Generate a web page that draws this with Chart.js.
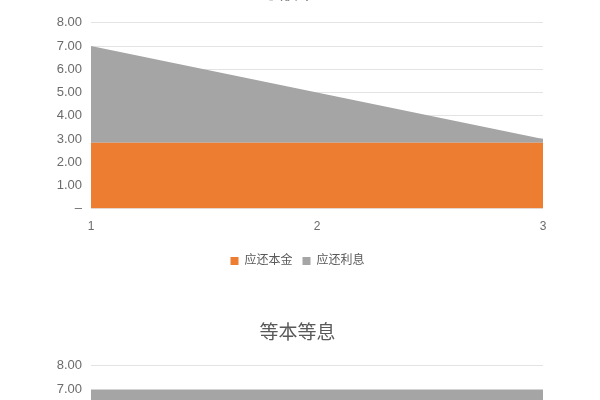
<!DOCTYPE html>
<html>
<head>
<meta charset="utf-8">
<script src="https://cdn.jsdelivr.net/npm/chart.js@4/dist/chart.umd.min.js"></script>
<style>
  html, body { margin: 0; padding: 0; background: #fff; overflow: hidden; width: 600px; height: 400px; }
  .box { position: absolute; left: 0; width: 600px; }
  #top { top: -40px; }
  #bottom { top: 300px; }
</style>
</head>
<body>
<div class="box" id="top"><canvas id="c1" width="600" height="325"></canvas></div>
<div class="box" id="bottom"><canvas id="c2" width="600" height="333"></canvas></div>
<script>
// 期数
const periods = ['1', '2', '3'];
// 等额本金
const principal1 = [2.83, 2.83, 2.83];
const interest1 = [4.17, 2.17, 0.17];
// 等本等息
const principal2 = [2.83, 2.83, 2.83];
const interest2 = [4.17, 4.17, 4.17];
const yTicks = [0, 1, 2, 3, 4, 5, 6, 7, 8];

const seriesNames = ['应还本金', '应还利息'];
const orange = '#ED7D31';
const grey = '#A5A5A5';
const font = "'Liberation Sans', 'Noto Sans CJK SC', sans-serif";

Chart.defaults.font.family = font;
Chart.defaults.color = '#6b6b6b';
Chart.defaults.animation = false;

function makeChart(id, title, principal, interest, titlePadBottom) {
  const ctx = document.getElementById(id).getContext('2d');
  return new Chart(ctx, {
    type: 'line',
    data: {
      labels: periods,
      datasets: [{
        label: seriesNames[0],
        data: principal,
        backgroundColor: orange,
        borderColor: orange,
        borderWidth: 0,
        pointRadius: 0,
        fill: 'origin'
      }, {
        label: seriesNames[1],
        data: interest,
        backgroundColor: grey,
        borderColor: grey,
        borderWidth: 0,
        pointRadius: 0,
        fill: '-1'
      }]
    },
    options: {
      responsive: false,
      // left padding keeps title/legend centred like the original
      layout: { padding: { left: 52, right: 57, bottom: 8 } },
      plugins: {
        title: {
          display: true,
          text: title,
          color: '#595959',
          font: { size: 19, weight: 'normal' },
          padding: { top: 22, bottom: titlePadBottom }
        },
        legend: {
          position: 'bottom',
          labels: {
            usePointStyle: true,
            pointStyle: 'rect',
            boxWidth: 8,
            boxHeight: 8,
            padding: 10,
            font: { size: 12 },
            color: '#595959'
          }
        },
        tooltip: { enabled: false }
      },
      scales: {
        x: {
          offset: false,
          grid: { display: false, drawTicks: false },
          border: { display: false },
          ticks: { padding: 11, font: { size: 12 } }
        },
        y: {
          stacked: true,
          min: 0,
          max: 8,
          afterBuildTicks: s => { s.ticks = yTicks.map(v => ({ value: v })); },
          afterFit: s => { s.width = 39; },
          grid: { color: '#e3e3e3', drawTicks: false },
          border: { display: false },
          ticks: {
            padding: 9,
            font: { size: 13 },
            callback: v => v === 0 ? '–' : v.toFixed(2)
          }
        }
      }
    }
  });
}

makeChart('c1', '等额本金', principal1, interest1, 18);
makeChart('c2', '等本等息', principal2, interest2, 21);
</script>
</body>
</html>
